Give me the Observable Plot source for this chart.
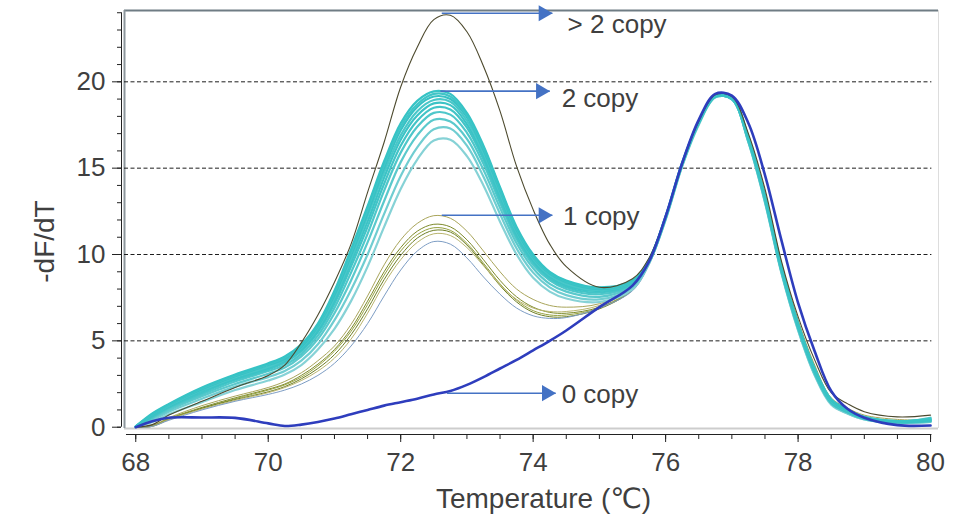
<!DOCTYPE html>
<html>
<head>
<meta charset="utf-8">
<script src="https://cdn.jsdelivr.net/npm/d3@7"></script>
<script src="https://cdn.jsdelivr.net/npm/@observablehq/plot@0.6"></script>
<style>
  html, body { margin: 0; padding: 0; background: #ffffff; }
</style>
</head>
<body>
<div id="chart"></div>
<script>
// ---------- data ----------
const temps = [68,68.25,68.5,69,69.5,70,70.25,70.5,70.75,71,71.25,71.5,71.75,72,72.25,72.5,72.75,73,73.25,73.5,73.75,74,74.25,74.5,75,75.5,75.75,76,76.25,76.5,76.75,77,77.25,77.5,77.75,78,78.25,78.5,78.75,79,79.5,80];

// 0 copy (blue)
const copy0 = [0,0.35,0.55,0.56,0.54,0.22,0.07,0.15,0.3,0.5,0.75,1.0,1.25,1.45,1.65,1.9,2.1,2.45,2.9,3.4,3.9,4.45,5.0,5.6,6.95,8.2,9.6,12.2,15.3,17.8,19.3,19.2,17.6,14.6,10.8,7.2,4.4,2.1,1.05,0.55,0.12,0.1];

// > 2 copy (dark olive)
const copyMore2 = [0,0.15,0.7,1.5,2.3,3.0,3.6,4.9,6.5,8.4,10.6,13.6,16.5,19.7,22.0,23.6,23.85,22.9,20.9,18.3,15.1,12.6,10.6,9.3,8.1,8.6,9.8,12.2,15.2,17.7,19.25,19.15,17.0,13.8,9.6,6.4,3.9,2.0,1.35,0.9,0.6,0.7];

// 2 copy (cyan)
const copy2a = [0.05,0.8,1.35,2.3,3.05,3.7,4.1,4.8,6.0,7.9,10.3,12.8,15.4,17.6,18.9,19.45,19.3,18.2,16.3,13.9,11.6,10.0,9.0,8.5,8.1,8.5,9.7,12.2,15.3,17.7,19.25,19.1,16.8,13.4,9.3,6.0,3.4,1.6,1.0,0.6,0.35,0.45];
const copy2b = [0.05,0.75,1.3,2.25,3.0,3.65,4.05,4.75,5.9,7.8,10.1,12.6,15.2,17.4,18.7,19.3,19.15,18.05,16.2,13.8,11.5,9.9,8.95,8.45,8.05,8.45,9.7,12.2,15.3,17.7,19.2,19.1,16.8,13.4,9.3,6.0,3.4,1.6,1.0,0.6,0.35,0.5];
const copy2c = [0.05,0.7,1.3,2.2,2.95,3.6,3.95,4.65,5.85,7.65,9.95,12.4,15.0,17.2,18.55,19.15,19.0,17.95,16.05,13.7,11.4,9.85,8.9,8.4,8.0,8.4,9.65,12.15,15.25,17.65,19.15,19.05,16.7,13.3,9.2,5.9,3.3,1.55,0.95,0.55,0.3,0.4];
const copy2d = [0.05,0.7,1.25,2.15,2.9,3.5,3.9,4.6,5.75,7.5,9.75,12.2,14.75,16.9,18.3,18.95,18.85,17.75,15.9,13.55,11.3,9.75,8.8,8.3,7.95,8.4,9.65,12.2,15.3,17.7,19.2,19.05,16.7,13.3,9.2,5.9,3.3,1.5,0.93,0.55,0.3,0.45];
const copy2e = [0.03,0.65,1.2,2.1,2.8,3.45,3.85,4.5,5.6,7.35,9.55,11.9,14.45,16.65,18.05,18.75,18.65,17.55,15.7,13.4,11.2,9.65,8.7,8.2,7.9,8.35,9.6,12.1,15.2,17.6,19.15,19.0,16.6,13.2,9.1,5.8,3.2,1.45,0.88,0.5,0.3,0.35];
const copy2f = [0.03,0.6,1.15,2.0,2.75,3.35,3.75,4.4,5.5,7.15,9.3,11.6,14.1,16.3,17.75,18.5,18.4,17.35,15.5,13.2,11.05,9.55,8.6,8.1,7.8,8.3,9.6,12.15,15.25,17.65,19.15,19.0,16.6,13.15,9.0,5.75,3.15,1.4,0.86,0.5,0.3,0.4];
const copy2g = [0.02,0.55,1.1,1.9,2.65,3.25,3.6,4.25,5.3,6.9,8.95,11.2,13.7,15.9,17.4,18.2,18.1,17.05,15.25,13.0,10.9,9.4,8.5,8.0,7.7,8.25,9.6,12.1,15.2,17.6,19.15,19.05,16.65,13.2,9.1,5.8,3.2,1.45,0.88,0.5,0.3,0.55];
const copy2h = [0.02,0.5,1.0,1.8,2.5,3.1,3.45,4.1,5.1,6.6,8.5,10.7,13.1,15.35,16.9,17.8,17.7,16.7,14.9,12.7,10.65,9.2,8.3,7.85,7.55,8.2,9.55,12.1,15.2,17.6,19.1,19.0,16.55,13.1,9.0,5.7,3.1,1.4,0.86,0.5,0.25,0.35];
const copy2i = [0.01,0.4,0.9,1.65,2.35,2.9,3.25,3.85,4.8,6.2,7.95,10.0,12.35,14.55,16.2,17.25,17.3,16.3,14.5,12.35,10.35,8.95,8.1,7.65,7.4,8.1,9.5,12.05,15.15,17.55,19.1,19.0,16.5,13.05,8.95,5.65,3.05,1.35,0.8,0.45,0.25,0.3];
const copy2j = [0,0.3,0.75,1.45,2.15,2.7,3.05,3.6,4.5,5.7,7.3,9.3,11.6,13.8,15.5,16.6,16.65,15.7,14.0,11.9,10.0,8.65,7.85,7.45,7.25,8.0,9.5,12.0,15.1,17.5,19.1,19.0,16.5,13.0,8.9,5.6,3.0,1.3,0.78,0.45,0.25,0.3];

// 1 copy (olive / khaki)
const copy1a = [0,0.1,0.55,1.25,1.8,2.3,2.65,3.15,3.85,4.7,5.95,7.6,9.4,10.85,11.8,12.25,12.1,11.35,10.2,9.0,8.0,7.4,7.05,6.95,7.15,8.1,9.55,12.1,15.2,17.6,19.15,19.1,16.9,13.6,9.5,6.2,3.6,1.7,1.1,0.7,0.45,0.4];
const copy1b = [0,0.08,0.5,1.15,1.7,2.2,2.5,3.0,3.65,4.5,5.7,7.3,9.0,10.4,11.35,11.75,11.6,10.85,9.7,8.5,7.55,6.95,6.65,6.6,6.95,8.0,9.5,12.1,15.2,17.6,19.15,19.05,16.8,13.5,9.4,6.1,3.5,1.6,1.0,0.6,0.35,0.35];
const copy1c = [0,0.08,0.5,1.1,1.65,2.15,2.45,2.9,3.55,4.4,5.55,7.1,8.8,10.2,11.15,11.55,11.4,10.65,9.5,8.3,7.35,6.75,6.5,6.5,6.9,8.0,9.5,12.05,15.15,17.55,19.1,19.05,16.8,13.5,9.4,6.1,3.5,1.6,1.0,0.6,0.35,0.3];
const copy1d = [0,0.05,0.45,1.1,1.6,2.05,2.35,2.8,3.4,4.2,5.35,6.85,8.55,9.95,10.95,11.4,11.3,10.55,9.4,8.2,7.25,6.65,6.4,6.4,6.85,7.95,9.45,12.0,15.1,17.5,19.1,19.0,16.75,13.45,9.35,6.05,3.45,1.6,1.0,0.6,0.3,0.3];
const copy1e = [0,0.05,0.45,1.05,1.55,2.0,2.3,2.7,3.25,4.0,5.1,6.6,8.3,9.7,10.7,11.2,11.1,10.4,9.35,8.25,7.4,6.9,6.7,6.7,7.05,8.05,9.5,12.05,15.15,17.55,19.1,19.05,16.8,13.5,9.4,6.1,3.5,1.6,1.0,0.6,0.35,0.4];
const copy1f = [0,0.05,0.4,1.0,1.5,1.9,2.15,2.5,3.0,3.7,4.7,6.0,7.6,9.1,10.2,10.75,10.6,9.8,8.7,7.7,6.9,6.45,6.3,6.35,6.9,7.9,9.4,11.95,15.05,17.5,19.1,19.0,16.7,13.4,9.3,6.0,3.4,1.55,0.95,0.55,0.3,0.3];

// tick values
const xMajorTicks = [68,70,72,74,76,78,80];
const xMinorTicks = [68,68.5,69,69.5,70,70.5,71,71.5,72,72.5,73,73.5,74,74.5,75,75.5,76,76.5,77,77.5,78,78.5,79,79.5,80];
const yMajorTicks = [0,5,10,15,20];
const yMinorTicks = [0,1,2,3,4,5,6,7,8,9,10,11,12,13,14,15,16,17,18,19,20,21,22,23,24];
const yGridValues = [5,10,15,20];

// annotations
const annoLabels = ["> 2 copy", "2 copy", "1 copy", "0 copy"];
const annoPeakX  = [72.62, 72.60, 72.62, 72.70];
const annoPeakY  = [23.97, 19.46, 12.27, 1.97];
const annoTipX   = [74.29, 74.25, 74.29, 74.34];
const annoLabelX = [74.52, 74.43, 74.45, 74.43];
const annoLabelY = [23.32, 19.03, 12.20, 1.91];

// ---------- styling ----------
const xDomain = [67.83, 80.12];
const yDomain = [-0.075, 24.13];
const xAxisSpan = [67.86, 80.02];
const font = "'Liberation Sans', Arial, 'DejaVu Sans', sans-serif";
const textColor = "#3f3f3f";

const cyanSeries = [copy2j, copy2i, copy2h, copy2g, copy2f, copy2e, copy2d, copy2c, copy2b, copy2a];
const cyanColors = ["#86d2d6", "#70cdd1", "#5ac9cc", "#4ec7ca", "#42c4c7", "#3bc3c6", "#48c7c9", "#37c1c4", "#40c5c7", "#36c3c5"];
const oliveSeries = [copy1a, copy1b, copy1c, copy1d, copy1e, copy1f];
const oliveColors = ["#a9a55a", "#7d8a2a", "#96a23f", "#6f7f25", "#b9b56e", "#7d9dc4"];

function curve(values, stroke, strokeWidth) {
  return Plot.line(temps, {
    x: d => d,
    y: (d, i) => values[i],
    stroke, strokeWidth,
    curve: "catmull-rom",
    strokeLinejoin: "round"
  });
}

const marks = [
  // plot-area frame
  Plot.ruleY([yDomain[0]], {stroke: "#cdcdcd", strokeWidth: 2}),
  Plot.ruleX([xDomain[1]], {stroke: "#dddddd", strokeWidth: 1}),
  Plot.ruleY([yDomain[1]], {stroke: "#6f7c84", strokeWidth: 2}),
  Plot.ruleX([xDomain[0]], {stroke: "#8d979d", strokeWidth: 2}),
  // dashed grid
  Plot.ruleY(yGridValues, {x1: xDomain[0], x2: xAxisSpan[1], stroke: "#1e1e1e", strokeWidth: 1, strokeDasharray: "4,2.5"}),
  // curves
  ...oliveSeries.map((s, i) => curve(s, oliveColors[i], 1)),
  ...cyanSeries.map((s, i) => curve(s, cyanColors[i], 2.2)),
  curve(copyMore2, "#4d4a2e", 1.1),
  curve(copy0, "#2e3dbd", 2.6),
  // y axis
  Plot.ruleX([xDomain[0]], {y1: 0, y2: 24, dx: -3, stroke: "#222"}),
  Plot.axisY({ticks: yMinorTicks, tickSize: 4, fill: "none", stroke: "#222", label: null, dx: -3}),
  Plot.axisY({ticks: yMajorTicks, tickSize: 9, tickPadding: 7, fontSize: 26, stroke: "#222", fill: textColor, label: null, dx: -3}),
  // x axis
  Plot.ruleY([yDomain[0]], {x1: xAxisSpan[0], x2: xAxisSpan[1], dy: 6, stroke: "#222"}),
  Plot.axisX({ticks: xMinorTicks, tickSize: 5, fill: "none", stroke: "#222", label: null, dy: 6}),
  Plot.axisX({ticks: xMajorTicks, tickSize: 8, tickPadding: 10, fontSize: 26, stroke: "#222", fill: textColor, label: null, dy: 6}),
  // axis titles
  Plot.text(["-dF/dT"], {frameAnchor: "left", textAnchor: "middle", lineAnchor: "middle", rotate: -90, dx: -79, dy: 22, fontSize: 28, fill: textColor}),
  Plot.text(["Temperature (℃)"], {frameAnchor: "bottom", textAnchor: "middle", lineAnchor: "middle", dx: 12, dy: 71, fontSize: 28, fill: textColor}),
  // annotation arrows
  Plot.link(annoLabels, {
    x1: (d, i) => annoPeakX[i], y1: (d, i) => annoPeakY[i],
    x2: (d, i) => annoTipX[i], y2: (d, i) => annoPeakY[i],
    stroke: "#4472c4", strokeWidth: 1.6
  }),
  Plot.dot(annoLabels, {
    x: (d, i) => annoTipX[i], y: (d, i) => annoPeakY[i],
    symbol: "triangle", rotate: 90, r: 6, fill: "#4472c4", stroke: "none", dx: -9
  }),
  Plot.text(annoLabels, {
    x: (d, i) => annoLabelX[i], y: (d, i) => annoLabelY[i],
    text: d => d, textAnchor: "start", lineAnchor: "middle", fontSize: 26, fill: textColor
  })
];

const chart = Plot.plot({
  width: 957,
  height: 515,
  marginLeft: 124,
  marginRight: 19,
  marginTop: 10,
  marginBottom: 87,
  x: {domain: xDomain},
  y: {domain: yDomain},
  style: {fontFamily: font, background: "#ffffff", color: textColor},
  marks
});
document.getElementById("chart").appendChild(chart);
</script>
</body>
</html>
